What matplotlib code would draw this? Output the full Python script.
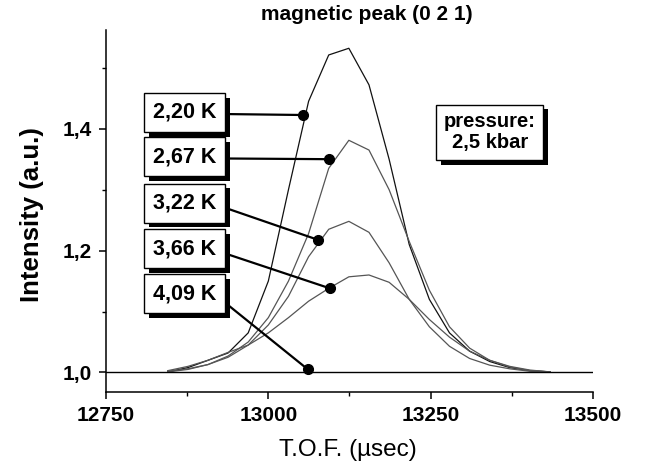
import matplotlib
matplotlib.use("Agg")
import matplotlib.pyplot as plt
import matplotlib.patheffects as pe
from matplotlib.ticker import FixedLocator, FuncFormatter

plt.rcParams["font.family"] = ["Liberation Sans", "DejaVu Sans"]

# time of flight grid (usec)
tof = [12845, 12876, 12907, 12938, 12969, 13000, 13031, 13062, 13093, 13124,
       13155, 13186, 13217, 13248, 13279, 13310, 13341, 13372, 13403, 13434]

# intensity (a.u.) at each temperature
i_220 = [1.001, 1.008, 1.020, 1.032, 1.065, 1.150, 1.300, 1.445, 1.521, 1.532,
         1.472, 1.350, 1.210, 1.120, 1.065, 1.035, 1.018, 1.008, 1.003, 1.001]
i_267 = [1.001, 1.005, 1.013, 1.027, 1.050, 1.090, 1.150, 1.228, 1.335, 1.381,
         1.365, 1.300, 1.215, 1.135, 1.075, 1.040, 1.020, 1.009, 1.003, 1.001]
i_322 = [1.002, 1.006, 1.013, 1.025, 1.045, 1.078, 1.125, 1.190, 1.235, 1.248,
         1.230, 1.180, 1.120, 1.075, 1.043, 1.023, 1.012, 1.006, 1.002, 1.001]
i_366 = [1.003, 1.010, 1.020, 1.033, 1.045, 1.065, 1.090, 1.117, 1.138, 1.157,
         1.160, 1.148, 1.120, 1.087, 1.058, 1.035, 1.020, 1.010, 1.004, 1.001]
# 4.09 K: no magnetic peak, flat background
tof_409 = [12750, 13500]
i_409 = [1.0, 1.0]

labels = ["2,20 K", "2,67 K", "3,22 K", "3,66 K", "4,09 K"]
# marker point on each curve
dot_x = [13053, 13094, 13077, 13095, 13061]
dot_y = [1.4225, 1.350, 1.2175, 1.138, 1.005]

# label box centres (layout)
box_x = 12871
box_y = [1.427, 1.354, 1.278, 1.203, 1.129]

fig = plt.figure(figsize=(6.48, 4.67), dpi=100)
ax = fig.add_axes([0.1636, 0.1606, 0.7515, 0.7752])

ax.plot(tof, i_220, color="#111111", lw=0.9)
ax.plot(tof, i_267, color="#555555", lw=0.9)
ax.plot(tof, i_322, color="#555555", lw=0.9)
ax.plot(tof, i_366, color="#555555", lw=0.9)
ax.plot(tof_409, i_409, color="black", lw=1.0)

shadow = [pe.SimplePatchShadow(offset=(3.5, -3.5), shadow_rgbFace="black", alpha=1.0),
          pe.Normal()]

for lab, dx, dy, by in zip(labels, dot_x, dot_y, box_y):
    t = ax.annotate(lab, xy=(dx, dy), xytext=(box_x, by),
                    ha="center", va="center", fontsize=15.5, fontweight="bold",
                    bbox=dict(boxstyle="square,pad=0.42", fc="white", ec="black", lw=1),
                    arrowprops=dict(arrowstyle="-", lw=1.6, color="black",
                                    shrinkA=0, shrinkB=0, relpos=(1, 0.42)))
    t.get_bbox_patch().set_path_effects(shadow)
ax.plot(dot_x, dot_y, "o", color="black", ms=7, zorder=5)

pt = ax.text(13341, 1.394, "pressure:\n2,5 kbar", ha="center", va="center",
             fontsize=14.5, fontweight="bold", linespacing=1.15,
             bbox=dict(boxstyle="square,pad=0.38", fc="white", ec="black", lw=1))
pt.get_bbox_patch().set_path_effects(shadow)

ax.set_xlim(12750, 13500)
ax.set_ylim(0.968, 1.562)
ax.xaxis.set_major_locator(FixedLocator([12750, 13000, 13250, 13500]))
ax.xaxis.set_minor_locator(FixedLocator([12875, 13125, 13375]))
ax.yaxis.set_major_locator(FixedLocator([1.0, 1.2, 1.4]))
ax.yaxis.set_minor_locator(FixedLocator([1.1, 1.3, 1.5]))
ax.yaxis.set_major_formatter(FuncFormatter(lambda v, p: f"{v:.1f}".replace(".", ",")))

for s in ["top", "right"]:
    ax.spines[s].set_visible(False)
for s in ["left", "bottom"]:
    ax.spines[s].set_linewidth(1.1)
ax.tick_params(which="major", length=5, width=1.1, labelsize=15, pad=5)
ax.tick_params(which="minor", length=3, width=1.0)
for lbl in ax.get_xticklabels() + ax.get_yticklabels():
    lbl.set_fontweight("bold")

fig.text(348 / 648, 1 - 450 / 467, "T.O.F. (\u00b5sec)", fontsize=17.5,
         ha="center", va="center")
fig.text(32 / 648, 1 - 215 / 467, "Intensity (a.u.)", rotation=90, fontsize=18.5,
         fontweight="bold", ha="center", va="center")
fig.text(367 / 648, 1 - 14 / 467, "magnetic peak (0 2 1)", fontsize=15,
         fontweight="bold", ha="center", va="center")

fig.savefig("out.png", dpi=100)
